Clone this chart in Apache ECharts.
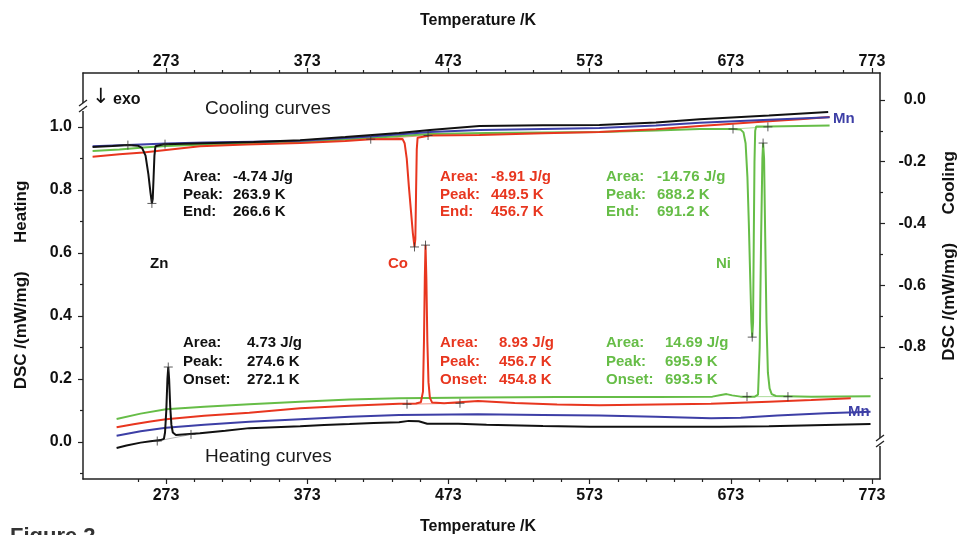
<!DOCTYPE html>
<html>
<head>
<meta charset="utf-8">
<script src="https://cdn.jsdelivr.net/npm/echarts@6/dist/echarts.min.js"></script>
<style>
  html, body { margin: 0; padding: 0; background: #fff; }
  #dscChart { width: 958px; height: 535px; }
</style>
</head>
<body>
<div id="dscChart"></div>
<script>
  // temperature axis (K), same on top and bottom
  const tempMin = 214.2
  const tempMax = 778.7
  const tempMajor = [273, 373, 473, 573, 673, 773]
  const tempMinor = [253, 293, 313, 333, 353, 393, 413, 433, 453, 493, 513, 533, 553, 593, 613, 633, 653, 693, 713, 733, 753]

  // left axis: heating, right axis: cooling  (mW/mg)
  const heatMin = -0.1175
  const heatMax = 1.1714
  const heatMajor = [0, 0.2, 0.4, 0.6, 0.8, 1.0]
  const heatMinor = [-0.1, 0.1, 0.3, 0.5, 0.7, 0.9]
  const coolMin = -1.2275
  const coolMax = 0.0874
  const coolMajor = [0, -0.2, -0.4, -0.6, -0.8]
  const coolMinor = [-0.1, -0.3, -0.5, -0.7, -0.9]

  // heating curves [T, DSC]
  const znHeating = [[238, -0.019], [245, -0.011], [255, -0.002], [262, 0.002], [269, 0.006], [271.5, 0.010], [272.3, 0.03], [273.2, 0.10], [274, 0.20], [274.6, 0.238], [275.2, 0.20], [276, 0.11], [276.8, 0.055], [277.8, 0.030], [280, 0.022], [297, 0.028], [315, 0.036], [332, 0.044], [350, 0.047], [368, 0.050], [385, 0.054], [403, 0.057], [420, 0.060], [438, 0.063], [445, 0.067], [452, 0.066], [458, 0.058], [480, 0.058], [500, 0.055], [540, 0.051], [573, 0.048], [620, 0.048], [665, 0.048], [700, 0.050], [740, 0.054], [772, 0.057]]
  const coHeating = [[238, 0.047], [250, 0.056], [262, 0.065], [273, 0.072], [300, 0.083], [332, 0.093], [368, 0.107], [403, 0.115], [438, 0.121], [450, 0.122], [453.5, 0.126], [455, 0.16], [455.7, 0.32], [456.3, 0.52], [456.8, 0.625], [457.4, 0.52], [458.1, 0.32], [458.9, 0.19], [459.9, 0.14], [461.5, 0.125], [470, 0.123], [494, 0.130], [520, 0.124], [550, 0.119], [580, 0.117], [620, 0.119], [659, 0.121], [700, 0.128], [730, 0.133], [758, 0.139]]
  const niHeating = [[238, 0.073], [255, 0.090], [273, 0.104], [300, 0.112], [332, 0.120], [368, 0.128], [403, 0.135], [438, 0.139], [495, 0.141], [550, 0.143], [620, 0.143], [660, 0.144], [666, 0.149], [670, 0.152], [674, 0.148], [680, 0.144], [690, 0.144], [692.3, 0.150], [693.5, 0.30], [694.5, 0.65], [695.4, 0.90], [695.9, 0.949], [696.6, 0.90], [697.4, 0.65], [698.3, 0.38], [699.3, 0.22], [700.5, 0.17], [702, 0.152], [705, 0.146], [730, 0.144], [772, 0.145]]
  const mnHeating = [[238, 0.020], [255, 0.034], [273, 0.045], [300, 0.055], [332, 0.064], [368, 0.072], [403, 0.080], [438, 0.086], [494, 0.088], [540, 0.086], [580, 0.084], [620, 0.080], [659, 0.075], [680, 0.077], [706, 0.084], [740, 0.091], [772, 0.096]]

  // cooling curves [T, DSC]
  const znCooling = [[221, -0.152], [235, -0.149], [246, -0.146], [253, -0.148], [256, -0.155], [258.5, -0.18], [260.5, -0.24], [262, -0.30], [263, -0.335], [263.6, -0.32], [264.2, -0.25], [264.8, -0.18], [265.5, -0.150], [266.6, -0.145], [272, -0.143], [300, -0.140], [335, -0.136], [368, -0.130], [400, -0.120], [438, -0.107], [460, -0.097], [495, -0.084], [540, -0.082], [580, -0.081], [620, -0.073], [651, -0.062], [700, -0.050], [742, -0.039]]
  const coCooling = [[221, -0.184], [240, -0.176], [257, -0.170], [273, -0.162], [297, -0.150], [330, -0.144], [368, -0.139], [400, -0.133], [418, -0.127], [440.5, -0.126], [442, -0.14], [443.5, -0.19], [445, -0.28], [446.5, -0.36], [447.8, -0.43], [449, -0.476], [449.6, -0.45], [450.1, -0.30], [450.6, -0.16], [451.2, -0.122], [460, -0.115], [495, -0.113], [540, -0.108], [580, -0.104], [620, -0.095], [651, -0.084], [700, -0.069], [722, -0.062], [743, -0.055]]
  const niCooling = [[221, -0.165], [240, -0.160], [257, -0.154], [273, -0.149], [300, -0.144], [335, -0.140], [368, -0.136], [418, -0.123], [460, -0.110], [500, -0.107], [540, -0.105], [580, -0.104], [620, -0.099], [651, -0.094], [675, -0.094], [680, -0.096], [682, -0.105], [683.5, -0.14], [684.8, -0.25], [685.8, -0.40], [686.8, -0.58], [687.6, -0.72], [688.2, -0.768], [688.8, -0.72], [689.3, -0.45], [689.8, -0.20], [690.3, -0.10], [691, -0.086], [700, -0.086], [743, -0.083]]
  const mnCooling = [[221, -0.150], [246, -0.146], [273, -0.141], [300, -0.138], [335, -0.135], [368, -0.132], [418, -0.118], [460, -0.104], [495, -0.097], [540, -0.094], [580, -0.091], [620, -0.083], [651, -0.074], [700, -0.064], [743, -0.056]]

  // evaluation baselines and "+" marks
  const heatBaselines = [[[266.8, 0.003], [290.7, 0.024]], [[443.7, 0.120], [481.2, 0.123]], [[684.5, 0.144], [713.5, 0.144]]]
  const coolBaselines = [[[246, -0.146], [272.3, -0.143]], [[418, -0.127], [458.6, -0.115]], [[674.6, -0.094], [699.3, -0.087]]]
  const heatMarks = [[266.8, 0.003], [290.7, 0.024], [274.6, 0.238], [443.7, 0.120], [481.2, 0.123], [456.8, 0.625], [684.5, 0.144], [713.5, 0.144], [695.9, 0.949]]
  const coolMarks = [[246, -0.146], [272.3, -0.143], [263, -0.335], [418, -0.127], [458.6, -0.115], [449, -0.476], [674.6, -0.094], [699.3, -0.087], [688.2, -0.768]]

  // annotation texts
  const znCoolNote = [['Area:', '-4.74 J/g'], ['Peak:', '263.9 K'], ['End:', '266.6 K']]
  const coCoolNote = [['Area:', '-8.91 J/g'], ['Peak:', '449.5 K'], ['End:', '456.7 K']]
  const niCoolNote = [['Area:', '-14.76 J/g'], ['Peak:', '688.2 K'], ['End:', '691.2 K']]
  const znHeatNote = [['Area:', '4.73 J/g'], ['Peak:', '274.6 K'], ['Onset:', '272.1 K']]
  const coHeatNote = [['Area:', '8.93 J/g'], ['Peak:', '456.7 K'], ['Onset:', '454.8 K']]
  const niHeatNote = [['Area:', '14.69 J/g'], ['Peak:', '695.9 K'], ['Onset:', '693.5 K']]

  const BLACK = '#111111'
  const RED = '#e8361f'
  const GREEN = '#66bd47'
  const BLUE = '#3d3fa6'
  const FONT = '"Liberation Sans", Arial, sans-serif'
  const AXIS = '#222'

  let chart = echarts.init(document.getElementById('dscChart'), null, { renderer: 'canvas' })

  function curve(data, color, yIdx, z) {
    return {
      type: 'line', xAxisIndex: 0, yAxisIndex: yIdx, data: data,
      symbol: 'none', smooth: false, z: z,
      lineStyle: { color: color, width: 2 }, itemStyle: { color: color }
    }
  }
  function baseline(data, color, yIdx) {
    return {
      type: 'line', xAxisIndex: 0, yAxisIndex: yIdx, data: data,
      symbol: 'none', z: 2, lineStyle: { color: color, width: 1, opacity: 0.55 }
    }
  }
  function marks(data, yIdx) {
    return {
      type: 'scatter', xAxisIndex: 0, yAxisIndex: yIdx, data: data, z: 6,
      symbol: 'path://M0 5H10M5 0V10', symbolSize: 9,
      itemStyle: { color: 'none', borderColor: '#333', borderWidth: 1 }
    }
  }

  function noteTexts(rows, x1, x2, y0, dy, color) {
    let out = []
    rows.forEach(function (r, i) {
      out.push(txt(r[0], x1, y0 + i * dy, color, 'bold 15px ' + FONT, 'left'))
      out.push(txt(r[1], x2, y0 + i * dy, color, 'bold 15px ' + FONT, 'left'))
    })
    return out
  }
  function txt(s, x, y, color, font, align, rot) {
    return {
      type: 'text', x: x, y: y, rotation: rot || 0, z: 10,
      style: { text: s, fill: color, font: font, align: align, verticalAlign: 'middle', textAlign: align, textVerticalAlign: 'middle' }
    }
  }
  function breakMark(x, y) {
    return [
      { type: 'rect', z: 20, shape: { x: x - 4, y: y - 4, width: 8, height: 8 }, style: { fill: '#fff' } },
      { type: 'line', z: 21, shape: { x1: x - 4, y1: y - 1, x2: x + 4, y2: y - 7 }, style: { stroke: AXIS, lineWidth: 1.3 } },
      { type: 'line', z: 21, shape: { x1: x - 4, y1: y + 5, x2: x + 4, y2: y - 1 }, style: { stroke: AXIS, lineWidth: 1.3 } }
    ]
  }

  function tempAxis(pos, minor) {
    return {
      type: 'value', position: pos, min: tempMin, max: tempMax,
      axisLine: { show: !minor, onZero: false, lineStyle: { color: AXIS, width: 1.5 } },
      axisTick: { show: true, customValues: minor ? tempMinor : tempMajor, length: minor ? 3 : 5, lineStyle: { color: AXIS, width: 1.2 } },
      axisLabel: {
        show: !minor, customValues: tempMajor, margin: pos === 'top' ? 3 : 9,
        color: BLACK, fontFamily: FONT, fontWeight: 'bold', fontSize: 16
      },
      splitLine: { show: false }
    }
  }
  function dscAxis(pos, min, max, major, minorVals, minor) {
    return {
      type: 'value', position: pos, min: min, max: max,
      axisLine: { show: !minor, onZero: false, lineStyle: { color: AXIS, width: 1.5 } },
      axisTick: { show: true, customValues: minor ? minorVals : major, length: minor ? 3 : 5, lineStyle: { color: AXIS, width: 1.2 } },
      axisLabel: {
        show: !minor, customValues: major,
        margin: pos === 'right' ? 46 : 11, align: 'right',
        color: BLACK, fontFamily: FONT, fontWeight: 'bold', fontSize: 16,
        formatter: function (v) { return (Math.abs(v) < 1e-9 ? 0 : v).toFixed(1) }
      },
      splitLine: { show: false }
    }
  }

  let graphics = []
    .concat([
      txt('Temperature /K', 478, 21, BLACK, 'bold 16px ' + FONT, 'center'),
      txt('Temperature /K', 478, 527, BLACK, 'bold 16px ' + FONT, 'center'),
      txt('DSC /(mW/mg)      Heating', 21, 285, BLACK, 'bold 17px ' + FONT, 'center', Math.PI / 2),
      txt('DSC /(mW/mg)      Cooling', 949, 256, BLACK, 'bold 17px ' + FONT, 'center', Math.PI / 2),
      txt('\u2193', 92, 98, BLACK, '21px "DejaVu Sans", ' + FONT, 'left'),
      txt('exo', 113, 100, BLACK, 'bold 16px ' + FONT, 'left'),
      txt('Cooling curves', 205, 109, '#1a1a1a', '19px ' + FONT, 'left'),
      txt('Heating curves', 205, 457, '#1a1a1a', '19px ' + FONT, 'left'),
      txt('Zn', 150, 264, BLACK, 'bold 15px ' + FONT, 'left'),
      txt('Co', 388, 264, RED, 'bold 15px ' + FONT, 'left'),
      txt('Ni', 716, 264, GREEN, 'bold 15px ' + FONT, 'left'),
      txt('Mn', 833, 119, BLUE, 'bold 15px ' + FONT, 'left'),
      txt('Mn', 848, 412, BLUE, 'bold 15px ' + FONT, 'left'),
      { type: 'text', x: 10, y: 526, z: 10, style: { text: 'Figure 2', fill: '#333', font: 'bold 22px ' + FONT, align: 'left', verticalAlign: 'top', textAlign: 'left', textVerticalAlign: 'top' } }
    ])
    .concat(noteTexts(znCoolNote, 183, 233, 177, 17.5, BLACK))
    .concat(noteTexts(coCoolNote, 440, 491, 177, 17.5, RED))
    .concat(noteTexts(niCoolNote, 606, 657, 177, 17.5, GREEN))
    .concat(noteTexts(znHeatNote, 183, 247, 343, 18.5, BLACK))
    .concat(noteTexts(coHeatNote, 440, 499, 343, 18.5, RED))
    .concat(noteTexts(niHeatNote, 606, 665, 343, 18.5, GREEN))
    .concat(breakMark(83, 107))
    .concat(breakMark(880, 442))

  chart.setOption({
    animation: false,
    backgroundColor: '#fff',
    grid: { left: 83, right: 78, top: 73, bottom: 56, containLabel: false },
    xAxis: [tempAxis('bottom', false), tempAxis('top', false), tempAxis('bottom', true), tempAxis('top', true)],
    yAxis: [
      dscAxis('left', heatMin, heatMax, heatMajor, heatMinor, false),
      dscAxis('right', coolMin, coolMax, coolMajor, coolMinor, false),
      dscAxis('left', heatMin, heatMax, heatMajor, heatMinor, true),
      dscAxis('right', coolMin, coolMax, coolMajor, coolMinor, true)
    ],
    series: [
      baseline(heatBaselines[0], '#777', 0),
      baseline(heatBaselines[1], RED, 0),
      baseline(heatBaselines[2], GREEN, 0),
      baseline(coolBaselines[0], '#777', 1),
      baseline(coolBaselines[1], RED, 1),
      baseline(coolBaselines[2], GREEN, 1),
      curve(niHeating, GREEN, 0, 3),
      curve(coHeating, RED, 0, 3),
      curve(mnHeating, BLUE, 0, 3),
      curve(znHeating, BLACK, 0, 4),
      curve(niCooling, GREEN, 1, 3),
      curve(coCooling, RED, 1, 3),
      curve(mnCooling, BLUE, 1, 3),
      curve(znCooling, BLACK, 1, 4),
      marks(heatMarks, 0),
      marks(coolMarks, 1)
    ],
    graphic: graphics
  })
</script>
</body>
</html>
